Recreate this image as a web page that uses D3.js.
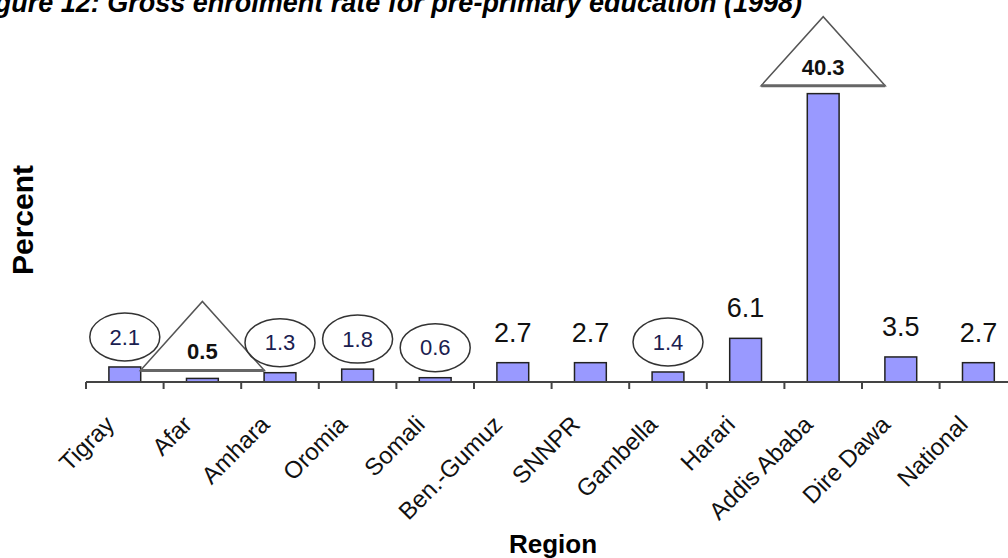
<!DOCTYPE html>
<html>
<head>
<meta charset="utf-8">
<script src="https://cdn.jsdelivr.net/npm/d3@7"></script>
<style>
  body { margin:0; background:#fff; }
  svg { display:block; font-family: Arial, 'Liberation Sans', sans-serif; }
</style>
</head>
<body>
<div id="viz"><svg></svg></div>
<script>
// data
const regions = ['Tigray','Afar','Amhara','Oromia','Somali','Ben.-Gumuz','SNNPR','Gambella','Harari','Addis Ababa','Dire Dawa','National'];
const rates = [2.1, 0.5, 1.3, 1.8, 0.6, 2.7, 2.7, 1.4, 6.1, 40.3, 3.5, 2.7];
const circled = ['Tigray','Amhara','Oromia','Somali','Gambella'];
const flagged = ['Afar','Addis Ababa'];

const SETTINGS = {
    width: 1008, height: 558,
    left: 86, axisY: 382, top: 60,
    step: 77.6
};

let svg = d3.select('#viz').select('svg')
    .attr('width', SETTINGS.width)
    .attr('height', SETTINGS.height);

let xScale = d3.scaleBand()
    .domain(regions)
    .range([SETTINGS.left, SETTINGS.left + SETTINGS.step*regions.length])
    .padding(0);

let yScale = d3.scaleLinear()
    .domain([0, 45])
    .range([SETTINGS.axisY, SETTINGS.top]);

const barW = xScale.bandwidth()*0.41;
const cx = d => xScale(d) + xScale.bandwidth()/2;

// title, cut at the top like the scan
svg.append('text')
    .attr('x', 802)
    .attr('y', 12)
    .attr('text-anchor', 'end')
    .attr('font-size', 27)
    .attr('font-weight', 'bold')
    .attr('font-style', 'italic')
    .attr('fill', '#000')
    .text('Figure 12: Gross enrolment rate for pre-primary education (1998)');

// bars
svg.selectAll('.bar')
    .data(regions)
    .enter()
    .append('rect')
    .attr('class', 'bar')
    .attr('x', d => cx(d) - barW/2)
    .attr('y', (d,i) => yScale(rates[i]))
    .attr('width', barW)
    .attr('height', (d,i) => SETTINGS.axisY - yScale(rates[i]))
    .attr('fill', '#9999ff')
    .attr('stroke', '#222')
    .attr('stroke-width', 1.5);

// x axis: line + ticks between categories
svg.append('line')
    .attr('x1', SETTINGS.left).attr('x2', SETTINGS.width)
    .attr('y1', SETTINGS.axisY).attr('y2', SETTINGS.axisY)
    .attr('stroke', '#444').attr('stroke-width', 2);

svg.selectAll('.tick')
    .data(regions)
    .enter()
    .append('line')
    .attr('class', 'tick')
    .attr('x1', d => xScale(d)).attr('x2', d => xScale(d))
    .attr('y1', SETTINGS.axisY).attr('y2', SETTINGS.axisY + 7)
    .attr('stroke', '#444').attr('stroke-width', 2);

svg.selectAll('.cat')
    .data(regions)
    .enter()
    .append('text')
    .attr('class', 'cat')
    .attr('transform', d => `translate(${cx(d) - 9},${SETTINGS.axisY + 44}) rotate(-45)`)
    .attr('text-anchor', 'end')
    .attr('font-size', 24)
    .attr('fill', '#111')
    .text(d => d);

// value labels
regions.forEach((d,i) => {
    let x = cx(d), top = yScale(rates[i]);
    if (circled.includes(d)) {
        svg.append('ellipse')
            .attr('cx', x).attr('cy', top - 30)
            .attr('rx', 35).attr('ry', 24)
            .attr('fill', 'none')
            .attr('stroke', '#333').attr('stroke-width', 1.5);
        svg.append('text')
            .attr('x', x).attr('y', top - 30)
            .attr('dy', '0.35em')
            .attr('text-anchor', 'middle')
            .attr('font-size', 22)
            .attr('fill', '#1a2050')
            .text(rates[i]);
    } else if (flagged.includes(d)) {
        let base = top - 8;
        svg.append('path')
            .attr('d', `M${x-62},${base} L${x},${base-69} L${x+62},${base} Z`)
            .attr('fill', '#fff')
            .attr('stroke', '#555').attr('stroke-width', 1.5);
        svg.append('line')
            .attr('x1', x-62).attr('x2', x+62)
            .attr('y1', base).attr('y2', base)
            .attr('stroke', '#666').attr('stroke-width', 3);
        svg.append('text')
            .attr('x', x).attr('y', base - 11)
            .attr('text-anchor', 'middle')
            .attr('font-size', 22)
            .attr('font-weight', 'bold')
            .attr('fill', '#111')
            .text(rates[i]);
    } else {
        svg.append('text')
            .attr('x', x).attr('y', top - 21)
            .attr('text-anchor', 'middle')
            .attr('font-size', 27)
            .attr('fill', '#111')
            .text(rates[i]);
    }
});

// axis titles
svg.append('text')
    .attr('x', 553).attr('y', 553)
    .attr('text-anchor', 'middle')
    .attr('font-size', 26)
    .attr('font-weight', 'bold')
    .text('Region');

svg.append('text')
    .attr('transform', `translate(33,220) rotate(-90)`)
    .attr('text-anchor', 'middle')
    .attr('font-size', 30)
    .attr('font-weight', 'bold')
    .text('Percent');
</script>
</body>
</html>
